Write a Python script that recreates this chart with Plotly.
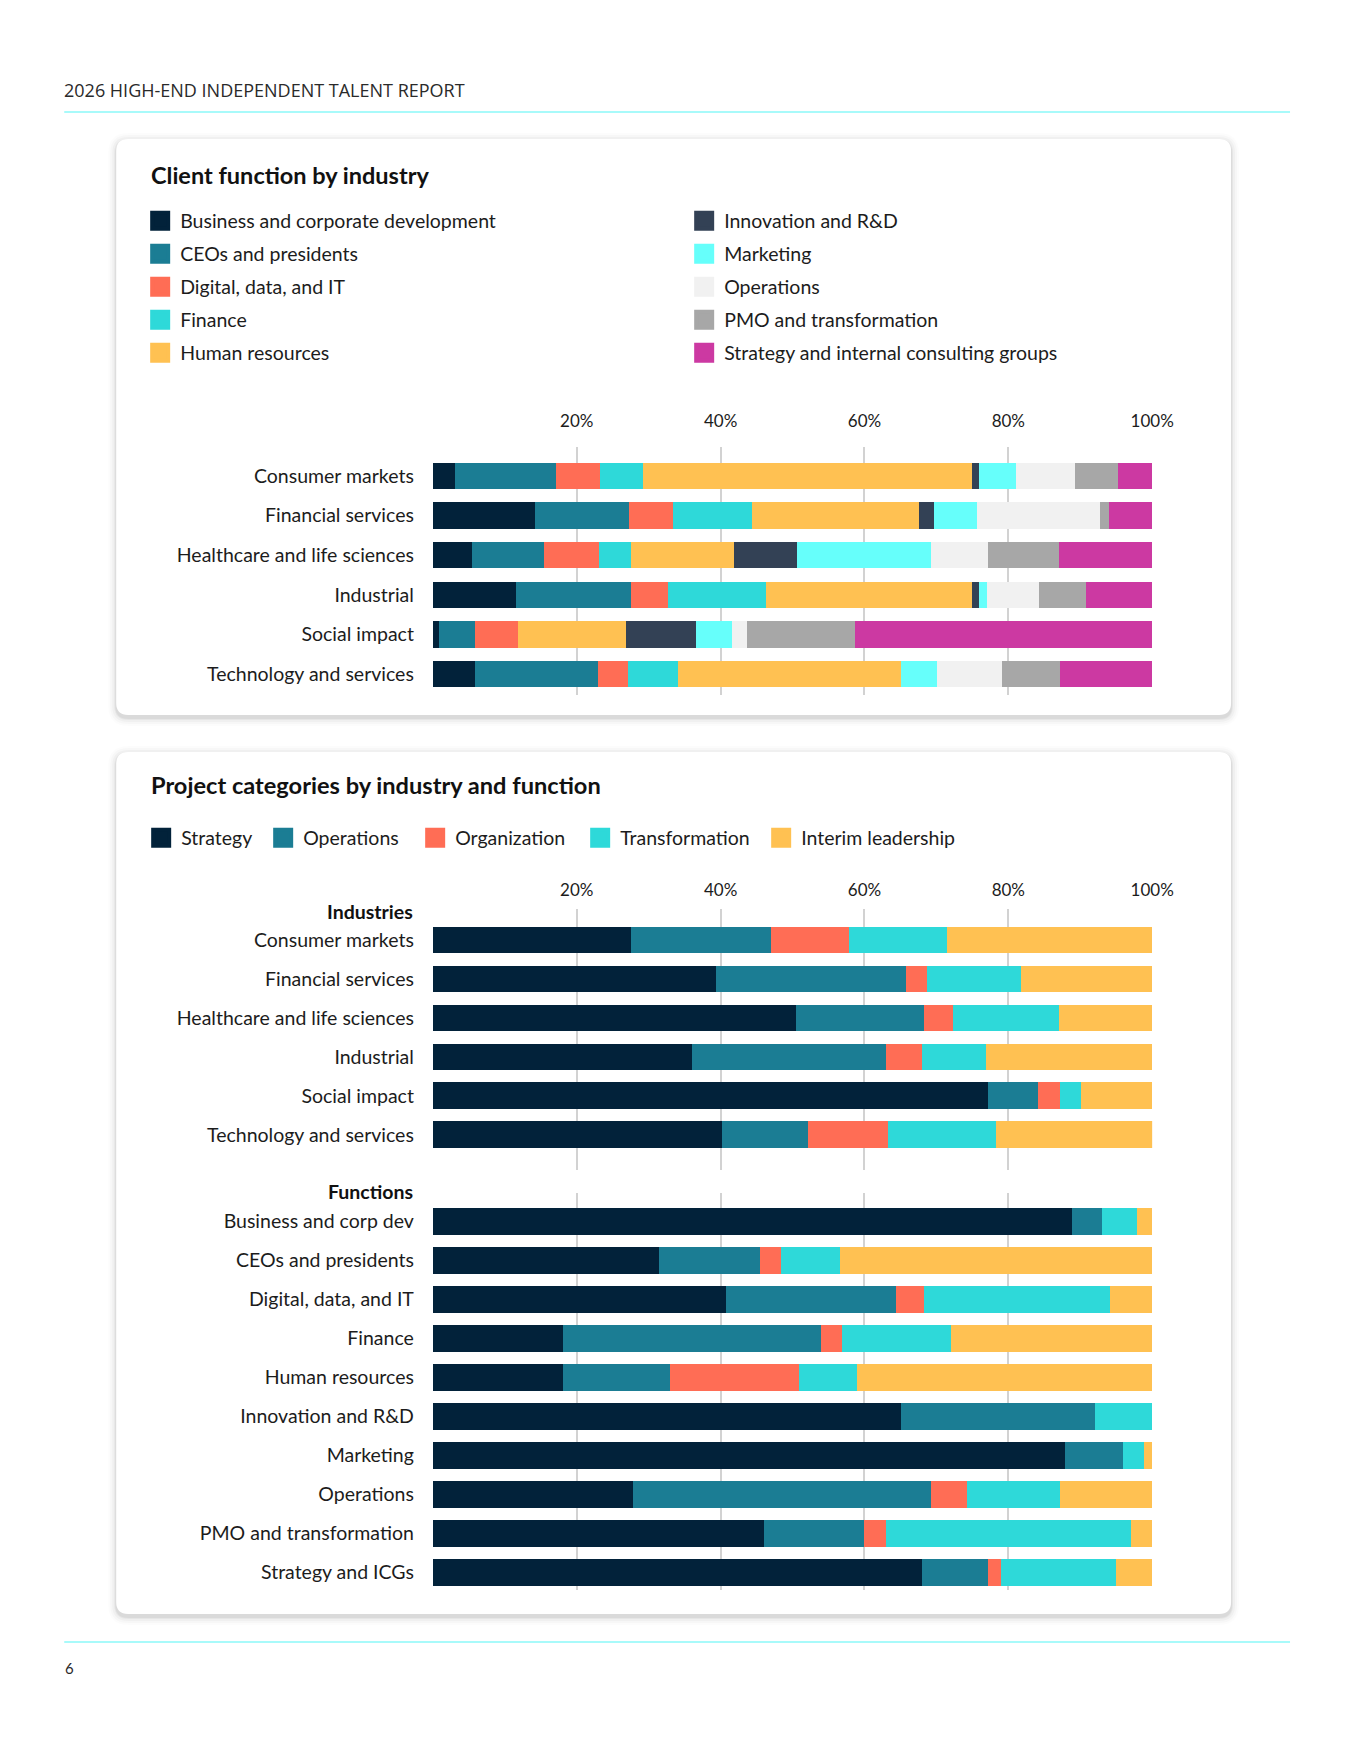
import plotly.graph_objects as go

# page is 1354x1753; the browser body adds an 8px margin round the figure
PAGE_MARGIN = 8
W, H = 1354 - 2 * PAGE_MARGIN, 1753 - 2 * PAGE_MARGIN
# horizontal calibration of page pixels -> figure pixels (measured from a test render)
KX, OX = 1.0157, 6.8

# ---- data: client function by industry (% of projects) ----
industries = ["Consumer markets", "Financial services", "Healthcare and life sciences",
              "Industrial", "Social impact", "Technology and services"]

client_functions = ["Business and corporate development", "CEOs and presidents",
                    "Digital, data, and IT", "Finance", "Human resources",
                    "Innovation and R&D", "Marketing", "Operations",
                    "PMO and transformation", "Strategy and internal consulting groups"]

bcd = [3.0, 14.2, 5.4, 11.5, 0.9, 5.9]
ceos = [14.1, 13.0, 10.0, 16.0, 5.0, 17.1]
digital = [6.1, 6.1, 7.7, 5.2, 5.9, 4.1]
finance = [6.0, 11.1, 4.4, 13.6, 0.0, 6.9]
human_resources = [45.7, 23.2, 14.4, 28.6, 15.0, 31.0]
innovation = [1.0, 2.0, 8.7, 1.0, 9.8, 0.0]
marketing = [5.1, 6.1, 18.7, 1.1, 5.0, 5.1]
operations = [8.2, 17.1, 7.8, 7.3, 2.1, 9.0]
pmo = [6.0, 1.2, 9.9, 6.5, 14.9, 8.1]
strategy_icg = [4.8, 6.0, 13.0, 9.2, 41.4, 12.8]

# ---- data: project categories by industry and function ----
categories = ["Strategy", "Operations", "Organization", "Transformation", "Interim leadership"]

ind_strategy = [27.5, 39.4, 50.5, 36.0, 77.1, 40.2]
ind_operations = [19.5, 26.3, 17.8, 27.0, 7.0, 12.0]
ind_organization = [10.8, 3.0, 4.0, 5.0, 3.1, 11.0]
ind_transformation = [13.7, 13.0, 14.7, 8.9, 2.9, 15.1]
ind_interim = [28.5, 18.3, 13.0, 23.1, 9.9, 22.1]

functions = ["Business and corp dev", "CEOs and presidents", "Digital, data, and IT",
             "Finance", "Human resources", "Innovation and R&D", "Marketing",
             "Operations", "PMO and transformation", "Strategy and ICGs"]

fn_strategy = [88.9, 31.4, 40.7, 18.1, 18.1, 65.1, 87.8, 27.8, 46.0, 68.0]
fn_operations = [4.1, 14.0, 23.7, 35.9, 14.9, 26.9, 8.1, 41.5, 13.9, 9.1]
fn_organization = [0.0, 3.0, 3.9, 2.9, 17.9, 0.0, 0.0, 4.9, 3.1, 1.8]
fn_transformation = [4.9, 8.2, 25.8, 15.1, 8.1, 8.0, 3.0, 13.0, 34.0, 16.1]
fn_interim = [2.1, 43.4, 5.9, 28.0, 41.0, 0.0, 1.1, 12.8, 3.0, 5.0]

x_ticks = [0, 20, 40, 60, 80, 100]
x_ticktext = ["", "20%", "40%", "60%", "80%", "100%"]

# ---- styling ----
FONT = "Lato"
TXT = "#1c1c1c"
GRID = "#d2d2d2"
NAVY, TEAL, CORAL, TURQ, YELLOW = "#02223a", "#1b7d94", "#ff6d55", "#2ed9d9", "#ffc152"
SLATE, AQUA, LIGHT, GREY, MAGENTA = "#334155", "#66fffb", "#f1f1f1", "#a7a7a7", "#cc39a2"

client_colors = [NAVY, TEAL, CORAL, TURQ, YELLOW, SLATE, AQUA, LIGHT, GREY, MAGENTA]
cat_colors = [NAVY, TEAL, CORAL, TURQ, YELLOW]


def X(px):
    # page pixel -> paper fraction
    return (KX * px - OX) / W


def Y(py):
    return 1 - (py - PAGE_MARGIN) / H


fig = go.Figure()

client_series = [bcd, ceos, digital, finance, human_resources,
                 innovation, marketing, operations, pmo, strategy_icg]
for name, vals, col in zip(client_functions, client_series, client_colors):
    fig.add_trace(go.Bar(y=industries, x=vals, orientation="h", name=name,
                         marker=dict(color=col, line=dict(width=0)), width=0.67,
                         xaxis="x", yaxis="y", showlegend=False, cliponaxis=False))

ind_series = [ind_strategy, ind_operations, ind_organization, ind_transformation, ind_interim]
fn_series = [fn_strategy, fn_operations, fn_organization, fn_transformation, fn_interim]
for name, iv, fv, col in zip(categories, ind_series, fn_series, cat_colors):
    fig.add_trace(go.Bar(y=industries, x=iv, orientation="h", name=name,
                         marker=dict(color=col, line=dict(width=0)), width=0.69,
                         xaxis="x2", yaxis="y2", showlegend=False, cliponaxis=False))
    fig.add_trace(go.Bar(y=functions, x=fv, orientation="h", name=name,
                         marker=dict(color=col, line=dict(width=0)), width=0.69,
                         xaxis="x3", yaxis="y3", showlegend=False, cliponaxis=False))

# legend entries (two columns for the first chart -> one legend per row)
rows = [(0, 5), (1, 6), (2, 7), (3, 8), (4, 9)]
for r, (a, b) in enumerate(rows):
    lg = "legend" if r == 0 else f"legend{r + 1}"
    for i in (a, b):
        fig.add_trace(go.Scatter(x=[None], y=[None], mode="markers", name=client_functions[i],
                                 marker=dict(symbol="square", size=16, color=client_colors[i],
                                             line=dict(color=client_colors[i], width=4)),
                                 legend=lg, xaxis="x", yaxis="y", hoverinfo="skip"))
cat_widths = [77, 107, 120, 136, 170]
for name, col, lw in zip(categories, cat_colors, cat_widths):
    fig.add_trace(go.Scatter(x=[None], y=[None], mode="markers", name=name,
                             marker=dict(symbol="square", size=16, color=col,
                                         line=dict(color=col, width=4)),
                             legend="legend6", legendwidth=lw,
                             xaxis="x2", yaxis="y2", hoverinfo="skip"))

xdom = [X(432), X(1152)]
xcommon = dict(domain=xdom, range=[0, 100], tickvals=x_ticks, ticktext=x_ticktext,
               showgrid=True, gridcolor=GRID, gridwidth=1.5, zeroline=False,
               ticks="", fixedrange=True, tickfont=dict(family=FONT, size=17, color=TXT))
ycommon = dict(type="category", showgrid=False, zeroline=False, ticks="",
               ticklabelstandoff=18, fixedrange=True,
               tickfont=dict(family=FONT, size=19.5, color=TXT))

legend_common = dict(orientation="h", xanchor="left", yanchor="middle", traceorder="normal",
                     bgcolor="rgba(0,0,0,0)", font=dict(family=FONT, size=19.5, color=TXT),
                     itemclick=False, itemdoubleclick=False)
legend_rows_y = [221, 254, 287, 320, 353]
legends = {}
for r, yy in enumerate(legend_rows_y):
    key = "legend" if r == 0 else f"legend{r + 1}"
    legends[key] = dict(legend_common, x=X(139), y=Y(yy), entrywidth=499)
legends["legend6"] = dict(legend_common, x=X(140), y=Y(838))


def rrect(x0, y0, x1, y1, r):
    return (f"M {X(x0 + r)},{Y(y0)} L {X(x1 - r)},{Y(y0)} Q {X(x1)},{Y(y0)} {X(x1)},{Y(y0 + r)} "
            f"L {X(x1)},{Y(y1 - r)} Q {X(x1)},{Y(y1)} {X(x1 - r)},{Y(y1)} "
            f"L {X(x0 + r)},{Y(y1)} Q {X(x0)},{Y(y1)} {X(x0)},{Y(y1 - r)} "
            f"L {X(x0)},{Y(y0 + r)} Q {X(x0)},{Y(y0)} {X(x0 + r)},{Y(y0)} Z")


shapes = []
for (x0, y0, x1, y1) in [(115, 139, 1231, 715), (115, 752, 1231, 1614)]:
    for k, a in [(8, 0.012), (6, 0.018), (4, 0.026), (2, 0.04), (1, 0.05)]:
        shapes.append(dict(type="path", xref="paper", yref="paper", layer="below",
                           path=rrect(x0 - k, y0 - k + 2, x1 + k, y1 + k + 3, 12 + k),
                           fillcolor=f"rgba(0,0,0,{a})", line=dict(width=0)))
    shapes.append(dict(type="path", xref="paper", yref="paper", layer="below",
                       path=rrect(x0, y0, x1, y1, 12), fillcolor="white", line=dict(width=0)))
for yy in (112, 1642):
    shapes.append(dict(type="line", xref="paper", yref="paper", x0=X(63), x1=X(1290),
                       y0=Y(yy), y1=Y(yy), line=dict(color="#a8fafa", width=2)))

annotations = [
    dict(text="2026 HIGH-END INDEPENDENT TALENT REPORT", x=X(61), y=Y(90),
         font=dict(family="Open Sans", size=18, color="#2a2a2a")),
    dict(text="<b>Client function by industry</b>", x=X(148), y=Y(175),
         font=dict(family=FONT, size=23.5, color="#111111")),
    dict(text="<b>Project categories by industry and function</b>", x=X(148), y=Y(785),
         font=dict(family=FONT, size=23.6, color="#111111")),
    dict(text="6", x=X(62), y=Y(1668), font=dict(family=FONT, size=15, color="#2a2a2a")),
]
for txt, yy in [("Industries", 911), ("Functions", 1191)]:
    annotations.append(dict(text=f"<b>{txt}</b>", x=X(414), y=Y(yy), xanchor="right",
                            font=dict(family=FONT, size=19.5, color="#111111")))
for a in annotations:
    a.setdefault("xanchor", "left")
    a.update(xref="paper", yref="paper", yanchor="middle", showarrow=False)

fig.update_layout(
    width=W, height=H, margin=dict(l=0, r=0, t=0, b=0),
    paper_bgcolor="white", plot_bgcolor="rgba(0,0,0,0)",
    barmode="stack", bargap=0, showlegend=True,
    font=dict(family=FONT, color=TXT),
    xaxis=dict(xcommon, anchor="y", side="top", ticklabelstandoff=16),
    yaxis=dict(ycommon, anchor="x", domain=[Y(695), Y(447)], range=[5.53, -0.73]),
    xaxis2=dict(xcommon, anchor="y2", side="top", ticklabelstandoff=9),
    yaxis2=dict(ycommon, anchor="x2", domain=[Y(1170), Y(909)], range=[5.9, -0.795]),
    xaxis3=dict(xcommon, anchor="y3", showticklabels=False),
    yaxis3=dict(ycommon, anchor="x3", domain=[Y(1590), Y(1193)], range=[9.46, -0.73]),
    shapes=shapes, annotations=annotations,
    hovermode=False,
    **legends,
)

fig.write_html("out.html")
